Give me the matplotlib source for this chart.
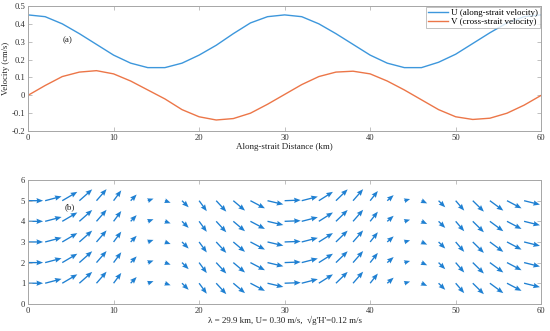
import numpy as np
import matplotlib.pyplot as plt

plt.rcParams['font.family'] = ['Liberation Serif', 'DejaVu Serif']
plt.rcParams['font.size'] = 6.5

# along-strait distance (km), sampled every 2 km
dist = [0, 2, 4, 6, 8, 10, 12, 14, 16, 18, 20, 22, 24, 26, 28, 30,
        32, 34, 36, 38, 40, 42, 44, 46, 48, 50, 52, 54, 56, 58, 60]
# along-strait velocity
u_vel = [0.45, 0.44, 0.40, 0.345, 0.285, 0.225, 0.18, 0.155, 0.155, 0.18, 0.225,
         0.28, 0.345, 0.405, 0.44, 0.45, 0.44, 0.40, 0.345, 0.285, 0.225, 0.18,
         0.155, 0.155, 0.185, 0.23, 0.29, 0.35, 0.405, 0.44, 0.45]
# cross-strait velocity
v_vel = [0.0, 0.055, 0.105, 0.13, 0.138, 0.12, 0.08, 0.03, -0.02, -0.08, -0.12,
         -0.138, -0.13, -0.10, -0.05, 0.005, 0.06, 0.105, 0.13, 0.135, 0.12, 0.08,
         0.03, -0.025, -0.08, -0.12, -0.135, -0.128, -0.10, -0.055, 0.0]

# arrow components as drawn in panel (b), same for every row
arr_dx = [1.76, 1.92, 1.76, 1.5, 1.18, 0.9, 0.7, 0.67, 0.67, 0.78, 0.9, 1.18, 1.37,
          1.7, 1.85, 1.88, 1.88, 1.65, 1.37, 1.18, 0.9, 0.75, 0.67, 0.67, 0.78,
          1.0, 1.3, 1.57, 1.7, 1.85, 1.8]
arr_dy = [0.0, 0.21, 0.43, 0.55, 0.56, 0.5, 0.3, 0.1, -0.1, -0.32, -0.51, -0.53,
          -0.48, -0.37, -0.18, 0.03, 0.2, 0.43, 0.55, 0.56, 0.47, 0.27, 0.08,
          -0.13, -0.32, -0.48, -0.53, -0.48, -0.37, -0.19, 0.0]
rows = [1, 2, 3, 4, 5]

blue = '#3d97dc'
orange = '#ec7648'
arrow_col = '#1f80d2'
frame = '#a6a6a6'

fig = plt.figure(figsize=(5.5, 3.31), dpi=100)
ax1 = fig.add_axes([0.051, 0.604, 0.933, 0.378])
ax2 = fig.add_axes([0.051, 0.082, 0.933, 0.374])

def style(ax):
    for s in ax.spines.values():
        s.set_color(frame)
        s.set_linewidth(0.7)
    ax.tick_params(direction='in', top=True, right=True, length=3, width=0.5,
                   colors=frame, labelcolor='#333333', labelsize=6.2, pad=2)

ax1.plot(dist, u_vel, color=blue, lw=1.0, label='U (along-strait velocity)')
ax1.plot(dist, v_vel, color=orange, lw=1.0, label='V (cross-strait velocity)')
ax1.set_xlim(0, 60)
ax1.set_ylim(-0.2, 0.5)
ax1.set_yticks(np.arange(-0.2, 0.51, 0.1))
ax1.set_yticklabels(['-0.2', '-0.1', '0', '0.1', '0.2', '0.3', '0.4', '0.5'])
ax1.set_xticks(range(0, 61, 10))
ax1.set_xlabel('Along-strait Distance (km)', fontsize=6.5, labelpad=1, color='#222222')
ax1.set_ylabel('Velocity (cm/s)', fontsize=6.2, labelpad=1, color='#222222')
ax1.text(4.0, 0.295, '(a)', fontsize=6.5, color='#222222')
leg = ax1.legend(loc='upper right', fontsize=6.5, borderaxespad=0.1, handlelength=2.2,
                 borderpad=0.2, labelspacing=0.1, handletextpad=0.4, fancybox=False)
leg.get_frame().set_edgecolor(frame)
leg.get_frame().set_linewidth(0.6)
style(ax1)

X, Y = np.meshgrid(dist, rows)
DX = np.tile(arr_dx, (len(rows), 1))
DY = np.tile(arr_dy, (len(rows), 1))
ax2.quiver(X, Y, DX, DY, angles='xy', scale_units='xy', scale=1, color=arrow_col,
           width=0.0026, headwidth=4, headlength=5, headaxislength=4.5)
ax2.set_xlim(0, 60)
ax2.set_ylim(0, 6)
ax2.set_xticks(range(0, 61, 10))
ax2.set_yticks(range(0, 7))
ax2.text(4.3, 4.6, '(b)', fontsize=6.5, color='#222222')
ax2.set_xlabel("\u03bb = 29.9 km, U= 0.30 m/s,  \u221ag'H'=0.12 m/s", fontsize=6.5,
               labelpad=1, color='#222222')
style(ax2)

fig.savefig('out.png', dpi=100)
